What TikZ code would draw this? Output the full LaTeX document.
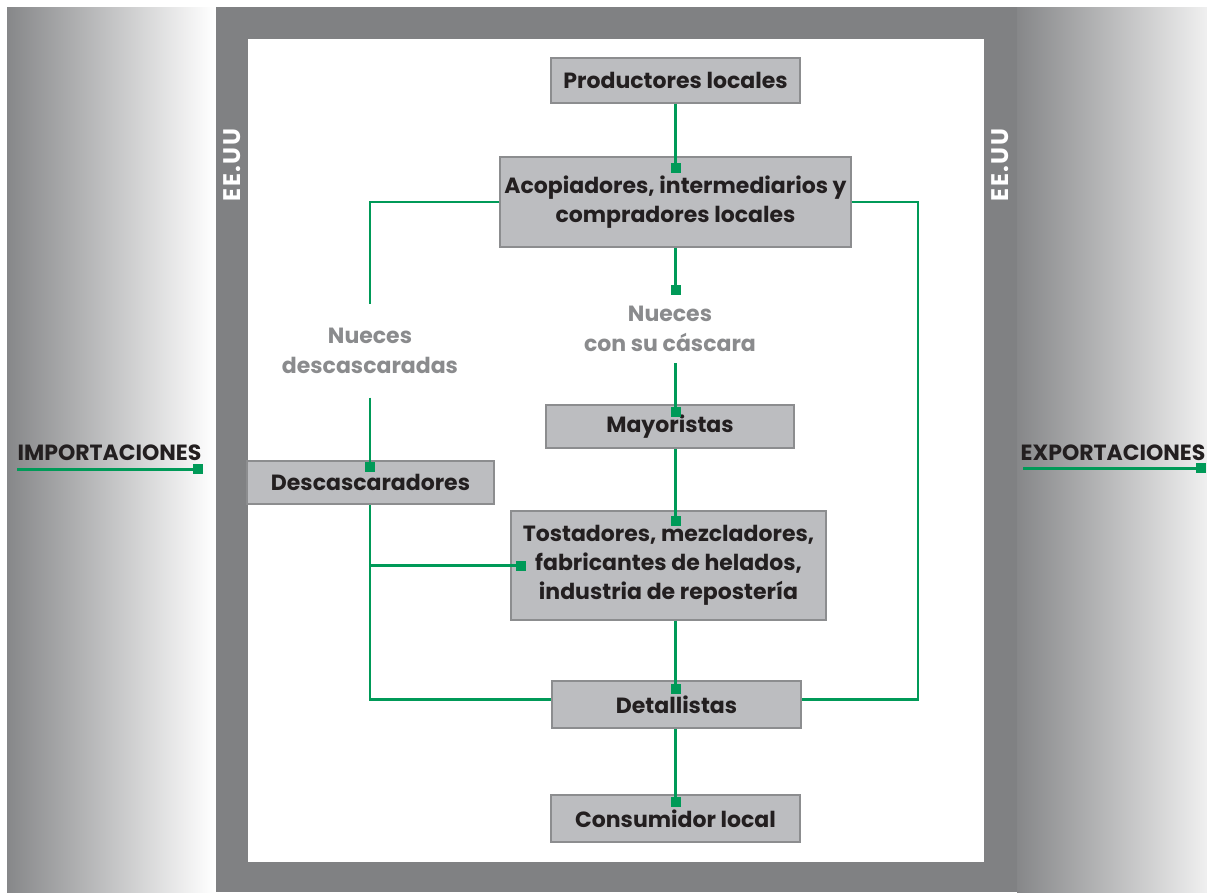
\documentclass[tikz,border=0pt]{standalone}
\usepackage{fontspec}
\setmainfont{Poppins}
\usetikzlibrary{arrows.meta,calc}
\definecolor{verde}{HTML}{009A58}
\definecolor{marco}{HTML}{808183}
\definecolor{relleno}{HTML}{BCBDC0}
\definecolor{borde}{HTML}{8C8D8F}
\definecolor{tinta}{HTML}{231F20}
\definecolor{gris}{HTML}{8A8B8D}
\tikzset{
  caja/.style={draw=borde,line width=1.2pt,fill=relleno,text=tinta,align=center,inner sep=0pt,
    font=\bfseries\fontsize{22}{29}\selectfont},
  nota/.style={text=gris,align=center,inner sep=0pt,font=\bfseries\fontsize{22}{30}\selectfont},
  rotulo/.style={text=tinta,inner sep=0pt,anchor=base,font=\bfseries\fontsize{22}{26}\selectfont},
  pais/.style={rotate=90,text=white,inner sep=0pt,
    font=\bfseries\fontsize{24}{28}\selectfont\addfontfeatures{LetterSpace=6}},
  flujo/.style={draw=verde,line width=2.5pt,-{Square[length=10pt,width=10pt]}},
  linea/.style={draw=verde,line width=2.5pt}
}
\begin{document}
\begin{tikzpicture}[x=1pt,y=-1pt]
\useasboundingbox (0,0) rectangle (1207,892);
% paneles laterales y marco
\shade[left color=marco!95,right color=white] (7,7) rectangle (214,892);
\shade[left color=marco!95,right color=white!94!black] (1017,7) rectangle (1207,892);
\fill[marco] (216,7) rectangle (1017,892);
\fill[white] (248,39) rectangle (984,862);
\node[pais] (eeuuA) at (232,165) {EE.UU};
\node[pais] (eeuuB) at (1000,165) {EE.UU};

% cajas
\node[caja,minimum width=249pt,minimum height=45pt] (prod) at (675.5,80.5) {Productores locales};
\node[caja,minimum width=351pt,minimum height=90pt] (acop) at (675.5,202) {Acopiadores, intermediarios y\\compradores locales};
\node[caja,minimum width=248pt,minimum height=43pt] (mayo) at (670,426.5) {Mayoristas};
\node[caja,minimum width=247pt,minimum height=43pt] (desc) at (370.5,482.5) {Descascaradores};
\node[caja,minimum width=315pt,minimum height=109pt] (tost) at (668.5,565.5) {Tostadores, mezcladores,\\fabricantes de helados,\\industria de repostería};
\node[caja,minimum width=249pt,minimum height=47pt] (detal) at (676.5,704.5) {Detallistas};
\node[caja,minimum width=249pt,minimum height=47pt] (cons) at (675.5,818.5) {Consumidor local};

% rotulos de producto
\node[nota,minimum height=68pt] (cascara) at (670,329) {Nueces\\con su cáscara};
\node[nota,minimum height=93pt] (pelada) at (370,351) {Nueces\\descascaradas};

% comercio exterior
\node[rotulo] (imp) at (109.5,460) {IMPORTACIONES};
\node[rotulo] (exp) at (1113,460) {EXPORTACIONES};
\draw[flujo] ($(imp.south west)+(0,9)$) -- ($(imp.south east)+(1,9)$);
\draw[flujo] ($(exp.south west)+(3,8)$) -- ($(exp.south east)+(0,8)$);

% cadena central
\draw[flujo] (prod.south) -- ($(prod.south |- acop.north)+(0,17)$);
\draw[flujo] (acop.south) -- (acop.south |- cascara.north);
\draw[flujo] (acop.south |- cascara.south) -- ($(acop.south |- mayo.north)+(0,13)$);
\draw[flujo] (acop.south |- mayo.south) -- ($(acop.south |- tost.north)+(0,16)$);
\draw[flujo] (acop.south |- tost.south) -- ($(acop.south |- detal.north)+(0,14)$);
\draw[flujo] (acop.south |- detal.south) -- ($(acop.south |- cons.north)+(0,13)$);

% rama de nueces descascaradas
\draw[linea] (acop.west) -| (pelada.north);
\draw[flujo] (pelada.south) -- ($(pelada.south |- desc.north)+(0,12)$);
\draw[linea] (pelada.south |- desc.south) |- ($(detal.west)+(0,-5)$);
\draw[flujo] (pelada.south |- tost.west) -- ($(tost.west)+(16,0)$);

% rama lateral derecha
\coordinate (der) at (918,0);
\draw[linea] (acop.east) -| ($(der |- detal.east)+(0,-5)$) -- ($(detal.east)+(0,-5)$);
\end{tikzpicture}
\end{document}
